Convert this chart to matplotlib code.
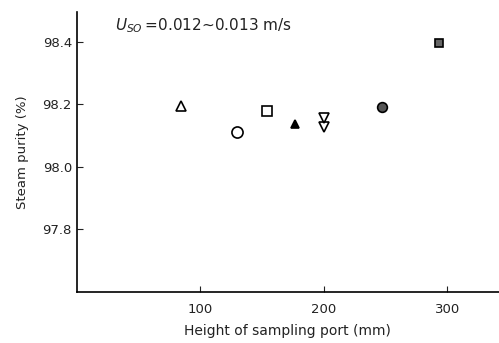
import matplotlib
matplotlib.use('Agg')
import matplotlib.pyplot as plt

# Data
heights = [84, 130, 154, 177, 200, 200, 247, 293]
purity = [98.195, 98.112, 98.178, 98.137, 98.127, 98.156, 98.19, 98.398]
markers = ['^', 'o', 's', '^', 'v', 'v', 'o', 's']
faces = ['white', 'white', 'white', 'black', 'white', 'white', '#555555', '#666666']
sizes = [6.5, 8, 6.5, 5.5, 6.5, 6.5, 7, 6]

xticks = [100, 200, 300]
yticks = [97.8, 98.0, 98.2, 98.4]

fig = plt.figure(figsize=(4.99, 3.43), dpi=100)
ax = fig.add_axes([0.154, 0.149, 0.846, 0.816])

for x, y, m, fc, s in zip(heights, purity, markers, faces, sizes):
    ax.plot(x, y, marker=m, markersize=s, markerfacecolor=fc,
            markeredgecolor='black', markeredgewidth=1.2, linestyle='none')

ax.set_xlim(0, 342)
ax.set_ylim(97.598, 98.496)
ax.set_xticks(xticks)
ax.set_yticks(yticks)
ax.set_yticklabels(['%.1f' % v for v in yticks])
ax.tick_params(direction='in', length=4, labelsize=9.5, colors='#222222')
ax.tick_params(axis='x', pad=8)

for side in ['top', 'right']:
    ax.spines[side].set_visible(False)
for side in ['left', 'bottom']:
    ax.spines[side].set_linewidth(1.2)

ax.set_xlabel('Height of sampling port (mm)', fontsize=10, color='#222222', labelpad=6)
ax.set_ylabel('Steam purity (%)', fontsize=9.5, color='#222222', labelpad=10)

ax.text(0.09, 0.95, r'$U_{SO}$' + '\u2009=0.012\u223c0.013 m/s', transform=ax.transAxes,
        fontsize=11, color='#222222', va='center', ha='left')

fig.savefig('out.png', dpi=100)
